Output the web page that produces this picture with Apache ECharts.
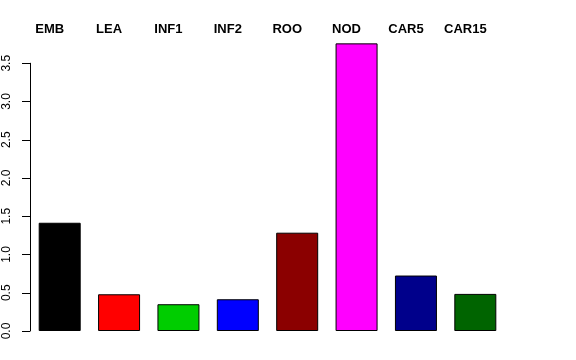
<!DOCTYPE html>
<html>
<head>
<meta charset="utf-8">
<script src="https://cdn.jsdelivr.net/npm/echarts@6/dist/echarts.min.js"></script>
<style>html,body{margin:0;padding:0;background:#fff}#c{width:576px;height:360px}</style>
</head>
<body>
<div id="c"></div>
<script>
const categories = ["EMB", "LEA", "INF1", "INF2", "ROO", "NOD", "CAR5", "CAR15"];
const values = [1.415, 0.48, 0.35, 0.415, 1.285, 3.76, 0.725, 0.485];
const barColors = ["#000000", "#FF0000", "#00CD00", "#0000FF", "#8B0000", "#FF00FF", "#00008B", "#006400"];
const yMin = 0, yMax = 3.5, yStep = 0.5;

const chart = echarts.init(document.getElementById('c'), null, {renderer: 'canvas'});
chart.setOption({
  animation: false,
  backgroundColor: '#ffffff',
  grid: {left: 30, right: 71, top: 63.25, bottom: 29, containLabel: false},
  xAxis: {
    type: 'category',
    data: categories,
    position: 'top',
    axisLine: {show: false},
    axisTick: {show: false},
    axisLabel: {
      show: true, interval: 0, margin: 27,
      fontFamily: 'Liberation Sans, Arial, sans-serif', fontWeight: 'bold', fontSize: 13, color: '#000',
      align: 'center', padding: [0, 20, 0, 0]
    },
    splitLine: {show: false}
  },
  yAxis: {
    type: 'value',
    min: yMin, max: yMax, interval: yStep,
    axisLine: {show: true, lineStyle: {color: '#000', width: 1}},
    axisTick: {show: true, length: 8, lineStyle: {color: '#000', width: 1}},
    axisLabel: {
      rotate: 90, margin: 17,
      fontFamily: 'Liberation Sans, Arial, sans-serif', fontSize: 12, color: '#000',
      formatter: v => v.toFixed(1)
    },
    splitLine: {show: false}
  },
  series: [{
    type: 'bar',
    clip: false,
    barWidth: 42,
    data: values.map((v, i) => ({value: v, itemStyle: {color: barColors[i]}})),
    itemStyle: {borderColor: '#000', borderWidth: 1}
  }]
});
</script>
</body>
</html>
